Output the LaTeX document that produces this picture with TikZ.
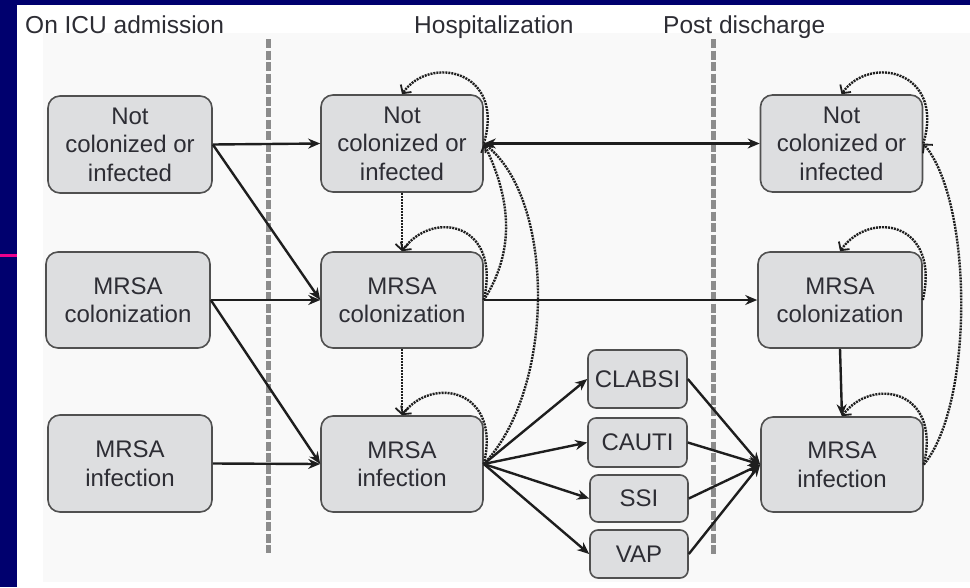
\documentclass[tikz,border=0pt]{standalone}
\usepackage{fontspec}
\setmainfont{Liberation Sans}
\usetikzlibrary{arrows.meta}
\definecolor{slidebg}{RGB}{0,0,110}
\definecolor{txt}{RGB}{45,45,52}
\definecolor{boxfill}{RGB}{221,222,224}
\definecolor{boxline}{RGB}{80,80,80}
\definecolor{arrowc}{RGB}{30,30,30}
\definecolor{sepc}{RGB}{140,140,140}
\definecolor{panel}{RGB}{249,249,249}
\begin{document}
\begin{tikzpicture}[x=1pt,y=-1pt,
  bigbox/.style={draw=boxline, line width=1.6pt, fill=boxfill, rounded corners=12pt,
    minimum width=162pt, minimum height=96pt, align=center, text=txt,
    font=\fontsize{24}{28.5}\selectfont, inner sep=0pt},
  smallbox/.style={draw=boxline, line width=1.6pt, fill=boxfill, rounded corners=8pt,
    minimum width=98pt, align=center, text=txt,
    font=\fontsize{24}{28}\selectfont, inner sep=0pt},
  solidarr/.style={draw=arrowc, line width=2.4pt, -{Stealth[length=12pt,width=10pt]}},
  dotarr/.style={draw=arrowc, line width=2.4pt, dash pattern=on 2pt off 1pt,
    -{Straight Barb[length=6pt,width=13pt,line width=1.8pt]}},
  sepline/.style={draw=sepc, line width=5pt, dash pattern=on 9pt off 2.5pt},
  title/.style={anchor=base west, text=txt, font=\fontsize{24.5}{28}\selectfont, inner sep=0pt}
]
\useasboundingbox (0,0) rectangle (970,587);
\fill[slidebg] (0,0) rectangle (970,587);
\fill[white] (17,5) rectangle (970,587);
\fill[panel] (43,33) rectangle (970,582);
\fill[magenta] (0,254) rectangle (17,256.5);

% titles
\node[title] (t1) at (25,33) {On ICU admission};
\node[title] (t2) at (414,33) {Hospitalization};
\node[title] (t3) at (663,33) {Post discharge};

% separators
\draw[sepline] (268,39) -- (268,553);
\draw[sepline] (713,39) -- (713,555);

% left column
\node[bigbox, minimum width=164pt, minimum height=97pt] (L1) at (130,144.5) {Not\\colonized or\\infected};
\node[bigbox, minimum width=164pt, minimum height=96pt] (L2) at (128,300) {MRSA\\colonization};
\node[bigbox, minimum width=164pt, minimum height=97pt] (L3) at (130,463.5) {MRSA\\infection};

% middle column
\node[bigbox, minimum height=97pt] (M1) at (402,143.5) {Not\\colonized or\\infected};
\node[bigbox, minimum height=96pt] (M2) at (402,300) {MRSA\\colonization};
\node[bigbox, minimum height=96pt] (M3) at (402,464) {MRSA\\infection};

% small boxes
\node[smallbox, minimum width=99pt, minimum height=58pt] (CLABSI) at (637.5,379) {CLABSI};
\node[smallbox, minimum width=99pt, minimum height=49pt] (CAUTI) at (637.5,442.5) {CAUTI};
\node[smallbox, minimum height=47pt] (SSI) at (639,498.5) {SSI};
\node[smallbox, minimum height=48pt] (VAP) at (639,554) {VAP};

% right column
\node[bigbox, minimum height=97pt] (R1) at (841.5,143.5) {Not\\colonized or\\infected};
\node[bigbox, minimum width=164pt, minimum height=96pt] (R2) at (840,300) {MRSA\\colonization};
\node[bigbox, minimum height=95pt] (R3) at (842,464.5) {MRSA\\infection};

% solid connectors
\draw[solidarr] (L1.east) -- (M1.west);
\draw[solidarr] (L1.east) -- (M2.west);
\draw[solidarr] (L2.east) -- (M2.west);
\draw[solidarr] (L2.east) -- (M3.west);
\draw[solidarr] (L3.east) -- (M3.west);
\draw[solidarr, {Stealth[length=12pt,width=10pt]}-{Stealth[length=12pt,width=10pt]}] (M1.east) -- (R1.west);
\draw[solidarr] (M2.east) -- (R2.west);
\foreach \n in {CLABSI,CAUTI,SSI,VAP} {
  \draw[solidarr] (M3.east) -- (\n.west);
  \draw[solidarr] (\n.east) -- (R3.west);
}
\draw[solidarr] (R2.south) -- (R3.north);

% dotted connectors
\draw[dotarr] (M1.south) -- (M2.north);
\draw[dotarr] (M2.south) -- (M3.north);
\draw[dotarr] (M1.east) .. controls +(22,-73) and +(28,-40) .. (M1.north);
\draw[dotarr] (M2.east) .. controls +(18,-78) and +(30,-42) .. (M2.north);
\draw[dotarr] (M3.east) .. controls +(18,-75) and +(30,-40) .. (M3.north);
\draw[dotarr] (M2.east) .. controls +(32,-50) and +(27,55) .. (M1.east);
\draw[dotarr] (M3.east) .. controls +(72,-75) and +(72,55) .. (M1.east);
\draw[dotarr] (R1.east) .. controls +(22,-73) and +(28,-40) .. (R1.north);
\draw[dotarr] (R2.east) .. controls +(18,-78) and +(30,-42) .. (R2.north);
\draw[dotarr] (R3.east) .. controls +(18,-75) and +(30,-40) .. (R3.north);
\draw[dotarr] (R3.east) .. controls +(50,-60) and +(50,60) .. (R1.east);
\end{tikzpicture}
\end{document}
